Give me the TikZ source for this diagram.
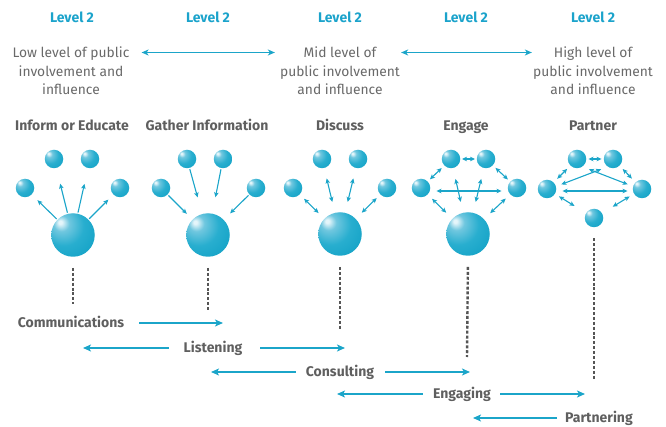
\documentclass[tikz,border=0pt]{standalone}
\usepackage{fontspec}
\setmainfont{Fira Sans}
\usetikzlibrary{arrows.meta}
\definecolor{lvlc}{RGB}{27,163,203}
\definecolor{arrc}{RGB}{27,165,201}
\definecolor{txtc}{RGB}{105,105,105}
\definecolor{hdrc}{RGB}{95,95,95}
\definecolor{dotc}{RGB}{85,85,85}
\definecolor{bhi}{RGB}{228,245,250}
\definecolor{blt}{RGB}{112,199,223}
\definecolor{bmid}{RGB}{40,174,207}
\definecolor{bedge}{RGB}{12,158,195}
\definecolor{bdark}{RGB}{5,148,186}
\pgfdeclareradialshading{sphere}{\pgfpoint{-15bp}{15bp}}{color(0bp)=(bhi); color(2bp)=(bhi); color(9bp)=(blt); color(23bp)=(bmid); color(46bp)=(bedge); color(80bp)=(bdark)}
\tikzset{
  ball/.style={circle, shading=sphere, inner sep=0pt, draw=none},
  bigball/.style={ball, minimum size=43.5pt},
  smallball/.style={ball, minimum size=18.5pt},
  arr/.style={draw=arrc, line width=1.1pt, -{Stealth[length=5pt,width=4.5pt,inset=1.2pt]}},
  darr/.style={draw=arrc, line width=1.1pt, {Stealth[length=5pt,width=4.5pt,inset=1.2pt]}-{Stealth[length=5pt,width=4.5pt,inset=1.2pt]}},
  toparr/.style={draw=arrc, line width=1.2pt, {Stealth[length=7pt,width=6pt,inset=2pt]}-{Stealth[length=7pt,width=6pt,inset=2pt]}},
  botarr/.style={draw=arrc, line width=1.5pt, -{Stealth[length=8pt,width=7pt,inset=2pt]}},
  dots/.style={draw=dotc, line width=2.4pt, dash pattern=on 3pt off 1.9pt},
  lvlt/.style={font=\fontsize{14}{16}\selectfont\bfseries, text=lvlc, inner sep=0pt, text height=9.8pt, text depth=0.5pt},
  desc/.style={font=\fontsize{13.8}{18.5}\selectfont, text=txtc, align=center, inner sep=0pt},
  hdr/.style={font=\fontsize{14}{16}\selectfont\bfseries, text=hdrc, inner sep=0pt, text height=9.8pt, text depth=0.5pt},
}
\begin{document}
\begin{tikzpicture}[x=1pt,y=-1pt]
\useasboundingbox (0,0) rectangle (666,427);
% level labels
\node[lvlt] (lv1) at (72,18) {Level 2};
\node[lvlt] (lv2) at (208,18) {Level 2};
\node[lvlt] (lv3) at (340,18) {Level 2};
\node[lvlt] (lv4) at (466,18) {Level 2};
\node[lvlt] (lv5) at (593,18) {Level 2};
% descriptions
\node[desc] (low) at (71,71) {Low level of public\\involvement and\\influence};
\node[desc] (mid) at (340,71) {Mid level of\\public involvement\\and influence};
\node[desc] (high) at (593,71) {High level of\\public involvement\\and influence};
\draw[toparr, shorten <=12pt, shorten >=5pt] ([yshift=18.5pt]low.east) -- ([yshift=18.5pt]mid.west);
\draw[toparr, shorten <=1pt, shorten >=1pt] ([yshift=18.5pt]mid.east) -- ([yshift=18.5pt]high.west);
% headers
\node[hdr] (h1) at (72,126) {Inform or Educate};
\node[hdr] (h2) at (207,126) {Gather Information};
\node[hdr] (h3) at (340,126) {Discuss};
\node[hdr] (h4) at (466,126) {Engage};
\node[hdr] (h5) at (593,126) {Partner};
% column 1
\node[bigball] (B1) at (73,235) {};
\node[smallball] (T1a) at (54,159) {};
\node[smallball] (T1b) at (90,159) {};
\node[smallball] (L1) at (25,188) {};
\node[smallball] (R1) at (120,188) {};
\draw[arr, shorten <=1pt, shorten >=8pt] (B1) -- (L1);
\draw[arr, shorten <=1pt, shorten >=16pt] (B1) -- (T1a);
\draw[arr, shorten <=1pt, shorten >=16pt] (B1) -- (T1b);
\draw[arr, shorten <=1pt, shorten >=7pt] (B1) -- (R1);
% column 2
\node[bigball] (B2) at (208,235) {};
\node[smallball] (T2a) at (187,159) {};
\node[smallball] (T2b) at (223,159) {};
\node[smallball] (L2) at (161,188) {};
\node[smallball] (R2) at (256,188) {};
\draw[arr, shorten <=1pt, shorten >=17pt] (T2a) -- (B2);
\draw[arr, shorten <=1pt, shorten >=16.5pt] (T2b) -- (B2);
\draw[arr, shorten <=1pt, shorten >=8pt] (L2) -- (B2);
\draw[arr, shorten <=1pt, shorten >=9pt] (R2) -- (B2);
% column 3
\node[bigball] (B3) at (340,234) {};
\node[smallball] (T3a) at (322,159) {};
\node[smallball] (T3b) at (358,159) {};
\node[smallball] (L3) at (293,188) {};
\node[smallball] (R3) at (387,188) {};
\draw[darr, shorten <=6pt, shorten >=8pt] (L3) -- (B3);
\draw[darr, shorten <=10.5pt, shorten >=11pt] (T3a) -- (B3);
\draw[darr, shorten <=10.5pt, shorten >=11pt] (T3b) -- (B3);
\draw[darr, shorten <=5pt, shorten >=8.5pt] (R3) -- (B3);
% column 4
\node[bigball] (B4) at (468,234) {};
\node[smallball] (T4a) at (451,159) {};
\node[smallball] (T4b) at (486,159) {};
\node[smallball] (L4) at (421,188) {};
\node[smallball] (R4) at (517,188) {};
\draw[darr, shorten <=1.5pt, shorten >=1.5pt] (T4a) -- (T4b);
\draw[darr, shorten <=3.5pt, shorten >=3pt] (T4a) -- (L4);
\draw[darr, shorten <=3.5pt, shorten >=3pt] (T4b) -- (R4);
\draw[darr, shorten <=6pt, shorten >=6pt] ([yshift=-3pt]L4.east) -- ([yshift=-3pt]R4.west);
\draw[darr, shorten <=11pt, shorten >=11pt] (T4a) -- (B4);
\draw[darr, shorten <=11pt, shorten >=11pt] (T4b) -- (B4);
\draw[darr, shorten <=6pt, shorten >=8.5pt] (L4) -- (B4);
\draw[darr, shorten <=6pt, shorten >=8.5pt] (R4) -- (B4);
% column 5
\node[smallball] (T5a) at (577,159) {};
\node[smallball] (T5b) at (613,159) {};
\node[smallball] (L5) at (547,189) {};
\node[smallball] (R5) at (642,189) {};
\node[smallball] (D5) at (594,218) {};
\draw[darr, shorten <=2pt, shorten >=2pt] (T5a) -- (T5b);
\draw[darr, shorten <=4.5pt, shorten >=5pt] (T5a) -- (L5);
\draw[darr, shorten <=4.5pt, shorten >=5pt] (T5b) -- (R5);
\draw[darr, shorten <=6pt, shorten >=5pt] ([yshift=-2pt]L5.east) -- ([yshift=-2pt]R5.west);
\draw[darr, shorten <=5.6pt, shorten >=7pt] (L5.16) -- (T5b.-125);
\draw[darr, shorten <=5.6pt, shorten >=7pt] (R5.164) -- (T5a.-55);
\draw[darr, shorten <=4.6pt, shorten >=13.4pt] (L5) -- (D5);
\draw[darr, shorten <=5pt, shorten >=12.4pt] (R5) -- (D5);
% dotted lines
\coordinate (d1) at (73,304);
\coordinate (d2) at (208,311);
\coordinate (d3) at (340,330);
\coordinate (d4) at (467,357);
\coordinate (d5) at (594,380);
\draw[dots, shorten <=11pt] (B1.south) -- (d1);
\draw[dots, shorten <=11pt] (B2.south) -- (d2);
\draw[dots, shorten <=11pt] (B3.south) -- (d3);
\draw[dots, shorten <=11pt] (B4.south) -- (d4);
\draw[dots, shorten <=11pt] (D5.south) -- (d5);
% bottom labels
\node[hdr] (comm) at (71,323) {Communications};
\node[hdr] (list) at (213,348) {Listening};
\node[hdr] (cons) at (340,372) {Consulting};
\node[hdr] (enga) at (462,394) {Engaging};
\node[hdr] (part) at (599,418) {Partnering};
\coordinate (commR) at (223,323);
\coordinate (listL) at (83,348);
\coordinate (listR) at (345,348);
\coordinate (consL) at (211,372);
\coordinate (consR) at (470,372);
\coordinate (engaL) at (337,394);
\coordinate (engaR) at (585,394);
\coordinate (partL) at (473,418);
\draw[botarr, shorten <=15pt] (comm.east) -- (commR);
\draw[botarr, shorten <=14.5pt] (list.west) -- (listL);
\draw[botarr, shorten <=18pt] (list.east) -- (listR);
\draw[botarr, shorten <=10pt] (cons.west) -- (consL);
\draw[botarr, shorten <=11pt] (cons.east) -- (consR);
\draw[botarr, shorten <=10pt] (enga.west) -- (engaL);
\draw[botarr, shorten <=9pt] (enga.east) -- (engaR);
\draw[botarr, shorten <=8pt] (part.west) -- (partL);
\end{tikzpicture}
\end{document}
